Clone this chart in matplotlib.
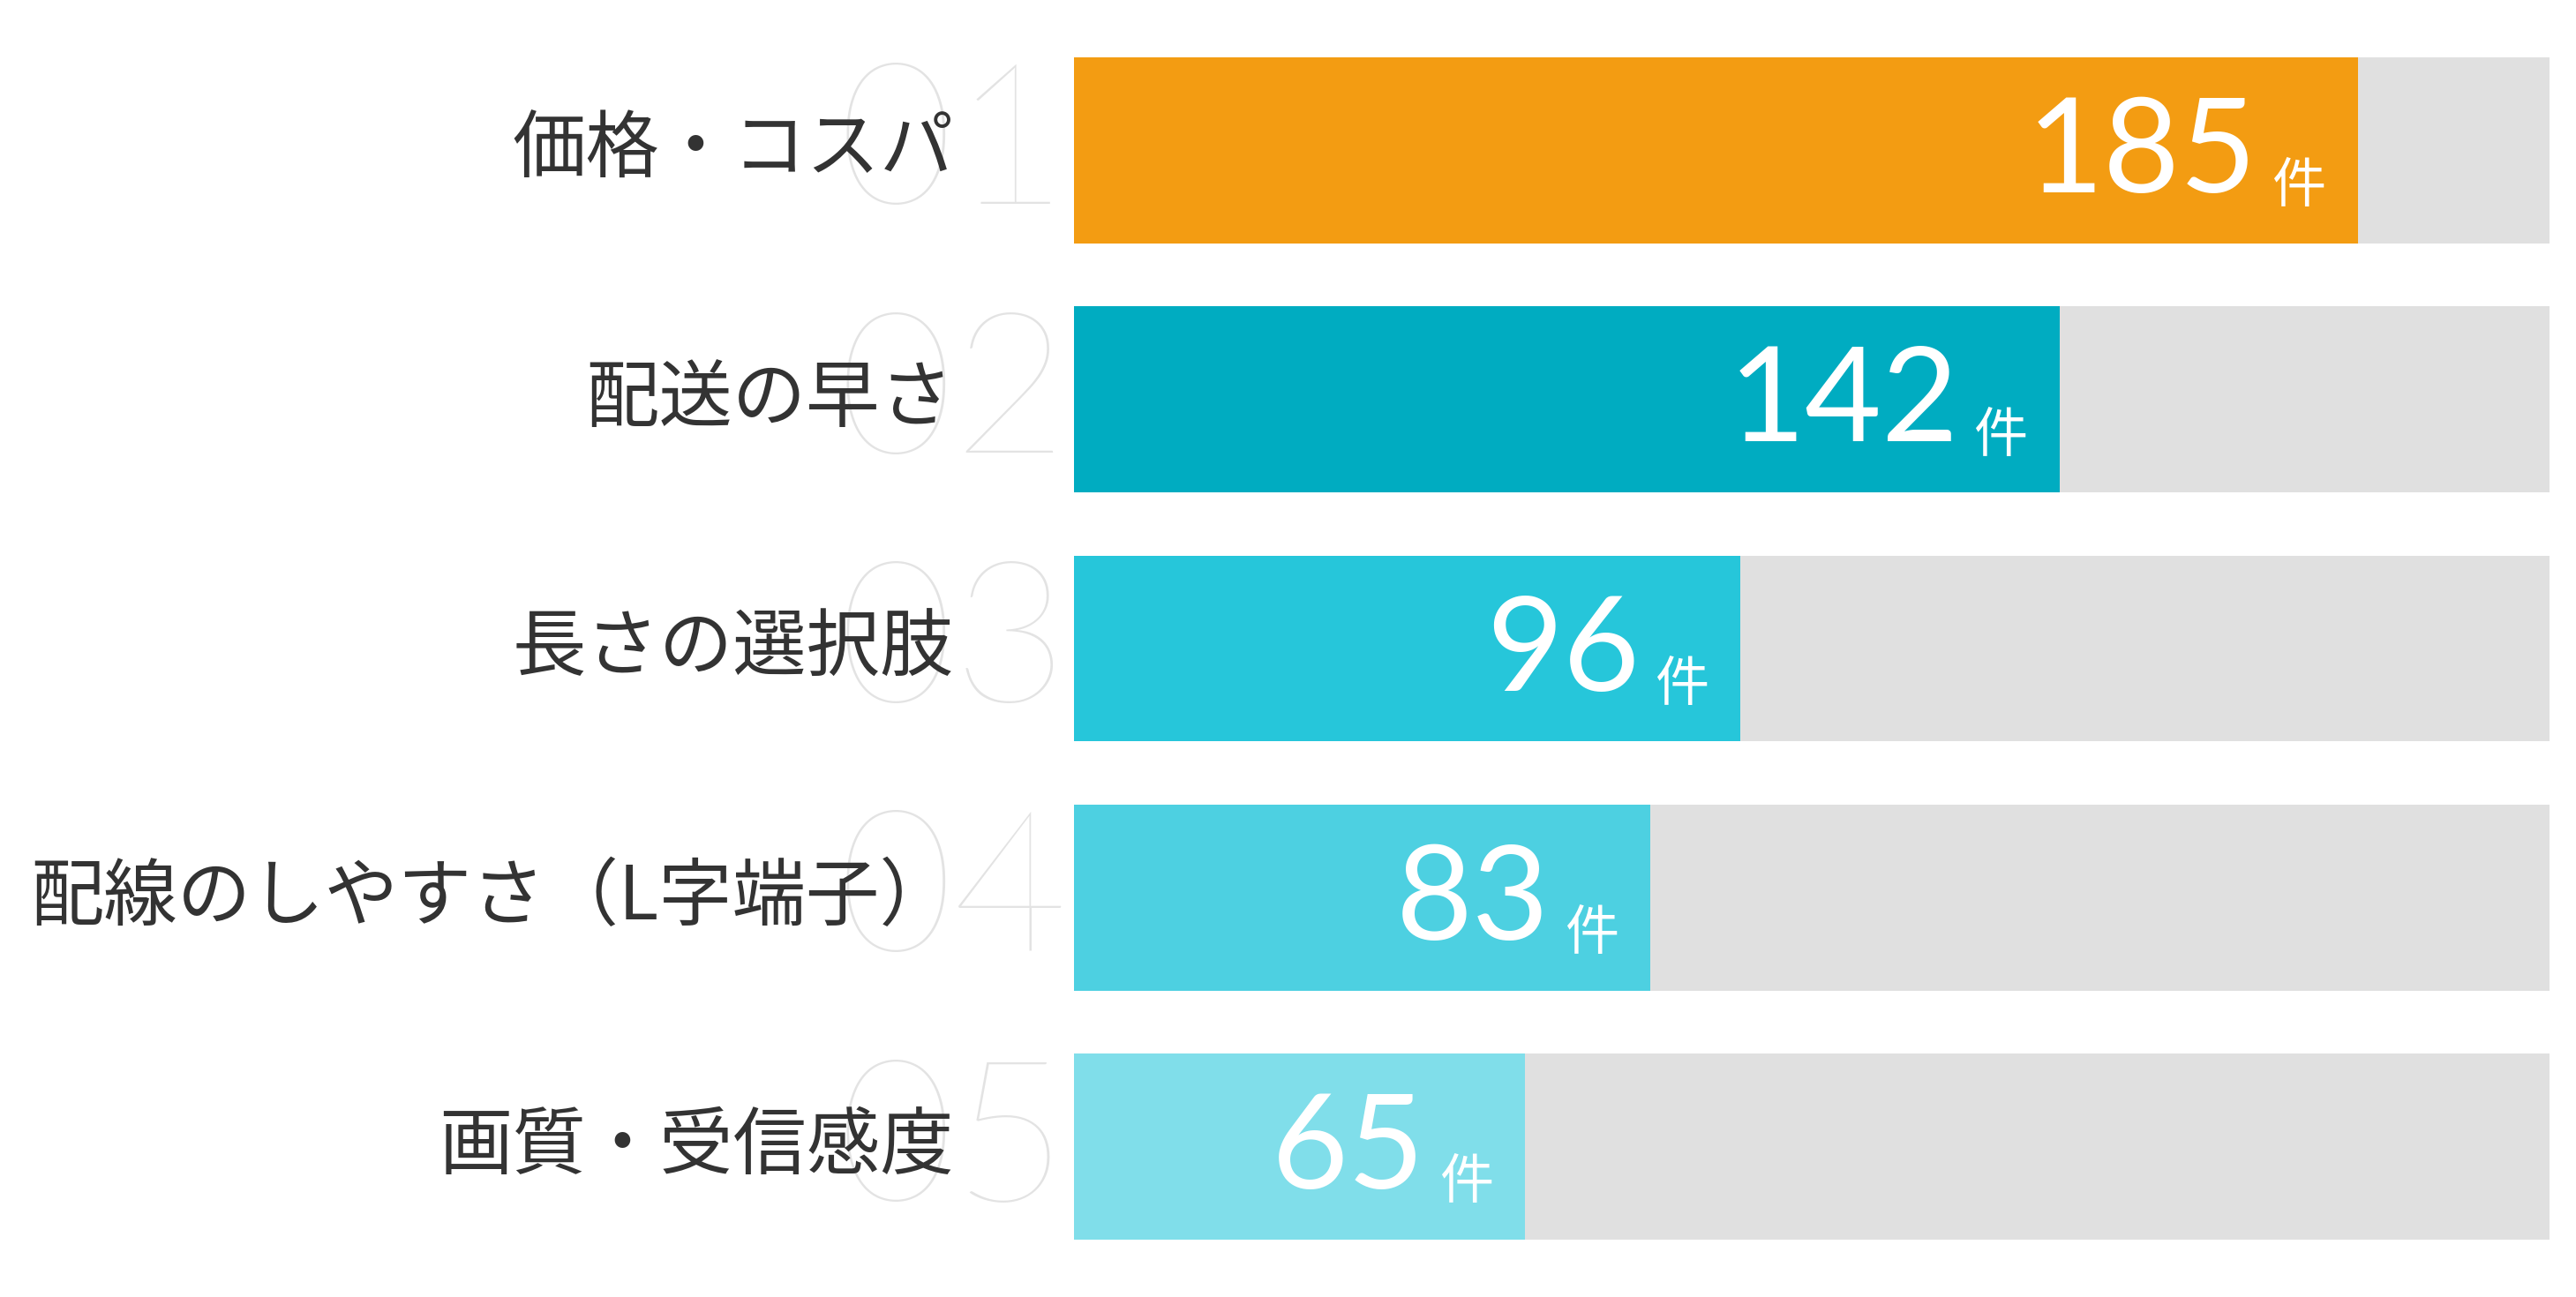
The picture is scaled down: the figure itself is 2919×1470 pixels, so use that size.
import matplotlib
matplotlib.use("Agg")
import matplotlib.pyplot as plt
import matplotlib.transforms as mt

categories = ["価格・コスパ", "配送の早さ", "長さの選択肢", "配線のしやすさ（L字端子）", "画質・受信感度"]
values = [185, 142, 96, 83, 65]
ranks = ["01", "02", "03", "04", "05"]
colors = ["#F39C12", "#00ACC1", "#26C6DA", "#4DD0E1", "#80DEEA"]
track_max = 212.7

plt.rcParams['font.family'] = ['Noto Sans CJK JP', 'DejaVu Sans']
fig = plt.figure(figsize=(29.19, 14.70), dpi=100)
ax = fig.add_axes([654/1568, 1-755/790, 898/1568, 720/790])
ax.set_xlim(0, track_max)
ax.set_ylim(4.373, -0.373)
ax.axis("off")
h = 0.746
trans = mt.blended_transform_factory(ax.transAxes, ax.transData)
for i, (c, v, r, col) in enumerate(zip(categories, values, ranks, colors)):
    ax.barh(i, track_max, height=h, color="#E0E0E0", zorder=1)
    ax.barh(i, v, height=h, color=col, zorder=2)
    ax.text(-0.004, i, r, transform=trans, ha="right", va="center", fontsize=162,
            color="#E3E3E3", family=["Lato", "DejaVu Sans"], fontweight="light", zorder=0)
    ax.text(-0.082, i, c, transform=trans, ha="right", va="center", fontsize=60,
            color="#333333", zorder=3)
    ax.annotate(str(v), (v, i), xytext=(-82, -4), textcoords="offset points",
                ha="right", va="center", fontsize=108, color="white",
                family=["Lato", "DejaVu Sans"], zorder=4)
    ax.annotate("件", (v, i), xytext=(-70, -30), textcoords="offset points",
                ha="left", va="center", fontsize=44, color="white", zorder=4)
fig.savefig("out.png", dpi=100)
